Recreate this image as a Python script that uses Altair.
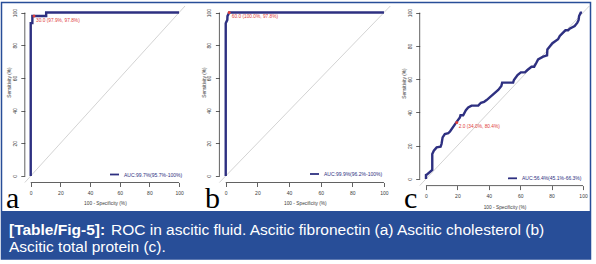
import altair as alt
import pandas as pd

# ---------------- data ----------------
TICKS = [0, 20, 40, 60, 80, 100]

# (a) Ascitic fibronectin : x = 100 - specificity (%), y = sensitivity (%)
A_FPR = [0, 0, 1.1, 1.1, 2.2, 10.4, 10.4, 100]
A_SENS = [0, 93.5, 93.5, 97.9, 97.9, 97.9, 100, 100]
A_THR_X, A_THR_Y = [2.2], [97.9]
A_THR_LABEL = "30.0 (97.9%, 97.8%)"
A_AUC = "AUC:99.7%(95.7%-100%)"

# (b) Ascitic cholesterol
B_FPR = [0, 0, 1.0, 1.1, 2.2, 100]
B_SENS = [0, 93.5, 95.5, 97.8, 100, 100]
B_THR_X, B_THR_Y = [2.2], [100]
B_THR_LABEL = "60.0 (100.0%, 97.8%)"
B_AUC = "AUC:99.9%(96.2%-100%)"

# (c) Ascitic total protein
C_FPR = [0, 0, 0.5, 4, 4, 5, 6.8, 9.3, 9.9, 10.6, 12, 14.2, 15.3, 19.3, 21.6, 22,
         23.7, 25.4, 26.9, 29, 33.3, 35, 37, 38.6, 46, 48, 48.5, 55.5, 56, 58.3,
         60.4, 63, 64.6, 67.2, 68.9, 70.3, 71.4, 74.6, 77.1, 77.3, 78.8, 80.5,
         84.1, 85.2, 87.3, 88.8, 90.5, 91.5, 94.7, 96.4, 97.2, 97.5, 98.5, 99.4]
C_SENS = [0, 2.4, 2.6, 5.4, 15, 17, 19, 19.4, 21, 25, 27, 27.5, 28.5, 34, 37, 38.3,
          38.3, 41.3, 43, 44.1, 44.1, 45.8, 46.4, 47.4, 53.5, 55.9, 57.9, 57.9, 59.5,
          62.5, 64.1, 64.1, 65.5, 67.5, 67.5, 69.9, 71.9, 73.5, 74.3, 77.9, 79.6,
          81.6, 84, 86, 88, 89.4, 89.4, 90.4, 92, 94, 95.6, 98, 100, 100]
C_THR_X, C_THR_Y = [19.6], [34.0]
C_THR_LABEL = "2.0 (34.0%, 80.4%)"
C_AUC = "AUC:56.4%(45.1%-66.3%)"

LETTERS = ["a", "b", "c"]
CAPTION_BOLD = "[Table/Fig-5]:"
CAPTION_1 = "ROC in ascitic fluid. Ascitic fibronectin (a) Ascitic cholesterol (b)"
CAPTION_2 = "Ascitic total protein (c)."

# ---------------- style ----------------
W, H = 596, 264
FONT = "Liberation Sans"
NAVY = "#2e3081"
RED = "#e0403c"
AX = "#3a3a3a"
BLUE = "#284e98"
DIAG = "#c8c8c8"
one = pd.DataFrame({"k": [0]})


def panel(fpr, sens, thr_x, thr_y, thr_label, auc, xr, yr, ytitle_y, xtitle_dy,
          thr_dx, thr_dy, leg_x, leg_y):
    xs = alt.Scale(domain=[-4, 104], range=xr, nice=False, zero=False)
    ys = alt.Scale(domain=[-4, 104], range=yr, nice=False, zero=False)
    common = dict(values=TICKS, domain=False, grid=False, tickSize=4, tickColor=AX,
                  tickWidth=0.8, labelFontSize=5, labelFont=FONT, labelColor=AX,
                  labelFlush=False, labelOverlap=False, titleFont=FONT,
                  titleFontSize=4.8, titleFontWeight="normal", titleColor=AX,
                  titleAlign="center", titleBaseline="middle")
    xa = alt.Axis(orient="bottom", offset=-(H - yr[0]), labelPadding=3.5,
                  title="100 - Specificity (%)", titleX=(xr[0] + xr[1]) / 2,
                  titleY=xtitle_dy, **common)
    ya = alt.Axis(orient="left", offset=-xr[0], labelPadding=3.5, labelAngle=270,
                  labelAlign="center", labelBaseline="bottom",
                  title="Sensitivity (%)", titleAngle=270, titleX=-14.8,
                  titleY=ytitle_y, **common)

    diag = alt.Chart(pd.DataFrame({"x": [-4], "y": [-4], "x2": [104], "y2": [104]})).mark_rule(
        color=DIAG, strokeWidth=0.8).encode(
        x=alt.X("x:Q", scale=xs, axis=None), y=alt.Y("y:Q", scale=ys, axis=None),
        x2="x2:Q", y2="y2:Q")

    axl = alt.Chart(pd.DataFrame({"x": [0, -4], "x2": [100, -4], "y": [-4, 0], "y2": [-4, 100]})).mark_rule(
        color=AX, strokeWidth=0.8).encode(
        x=alt.X("x:Q", scale=xs, axis=None), y=alt.Y("y:Q", scale=ys, axis=None),
        x2="x2:Q", y2="y2:Q")

    df = pd.DataFrame({"fpr": fpr, "sens": sens, "i": list(range(len(fpr)))})
    curve = alt.Chart(df).mark_line(color=NAVY, strokeWidth=2.4, strokeJoin="miter").encode(
        x=alt.X("fpr:Q", scale=xs, axis=xa), y=alt.Y("sens:Q", scale=ys, axis=ya),
        order="i:Q")

    tdf = pd.DataFrame({"x": thr_x, "y": thr_y, "t": [thr_label]})
    dot = alt.Chart(tdf).mark_circle(color=RED, size=9, opacity=1).encode(
        x=alt.X("x:Q", scale=xs, axis=None), y=alt.Y("y:Q", scale=ys, axis=None))
    lab = alt.Chart(tdf).mark_text(color=RED, font=FONT, fontSize=4.8, align="left",
                                   baseline="middle", dx=thr_dx, dy=thr_dy).encode(
        x=alt.X("x:Q", scale=xs, axis=None), y=alt.Y("y:Q", scale=ys, axis=None),
        text="t:N")

    leg_line = alt.Chart(one).mark_rule(color=NAVY, strokeWidth=1.8).encode(
        x=alt.value(leg_x), x2=alt.value(leg_x + 9), y=alt.value(leg_y))
    leg_text = alt.Chart(one).mark_text(text=auc, color=NAVY, font=FONT, fontSize=5,
                                        align="left", baseline="middle").encode(
        x=alt.value(leg_x + 14), y=alt.value(leg_y))
    return [diag, axl, curve, dot, lab, leg_line, leg_text]


layers = []
layers += panel(A_FPR, A_SENS, A_THR_X, A_THR_Y, A_THR_LABEL, A_AUC,
                [24.8, 185.0], [182.5, 6.0], 82, 20.5, 2, 4.7, 110, 174.5)
layers += panel(B_FPR, B_SENS, B_THR_X, B_THR_Y, B_THR_LABEL, B_AUC,
                [219.4, 390.3], [182.5, 6.0], 82, 20.5, 2.5, 4.2, 310, 174)
layers += panel(C_FPR, C_SENS, C_THR_X, C_THR_Y, C_THR_LABEL, C_AUC,
                [419.7, 589.3], [185.6, 6.0], 83, 21.9, 2, 4.2, 508, 178.3)

frame = alt.Chart(one).mark_rect(fillOpacity=0, stroke=BLUE, strokeWidth=1.5).encode(
    x=alt.value(1.5), x2=alt.value(590.5), y=alt.value(2.5), y2=alt.value(259))
box = alt.Chart(one).mark_rect(color=BLUE, opacity=1).encode(
    x=alt.value(1.5), x2=alt.value(590.5), y=alt.value(211), y2=alt.value(259))
cap_b = alt.Chart(one).mark_text(text=CAPTION_BOLD, font=FONT, fontSize=15.5,
                                 fontWeight="bold", color="white", align="left",
                                 baseline="alphabetic").encode(
    x=alt.value(9), y=alt.value(234.5))
cap_1 = alt.Chart(one).mark_text(text=CAPTION_1, font=FONT, fontSize=15.5,
                                 color="white", align="left",
                                 baseline="alphabetic").encode(
    x=alt.value(111), y=alt.value(234.5))
cap_2 = alt.Chart(one).mark_text(text=CAPTION_2, font=FONT, fontSize=15.5,
                                 color="white", align="left",
                                 baseline="alphabetic").encode(
    x=alt.value(9), y=alt.value(252))

letter_layers = []
for txt, lx in zip(LETTERS, [6, 205, 404]):
    letter_layers.append(
        alt.Chart(one).mark_text(text=txt, font="Liberation Serif", fontSize=30,
                                 color="black", align="left",
                                 baseline="alphabetic").encode(
            x=alt.value(lx), y=alt.value(208)))

chart = alt.layer(*layers, frame, box, cap_b, cap_1, cap_2, *letter_layers).resolve_scale(
    x="independent", y="independent").properties(
    width=W, height=H, autosize=alt.AutoSizeParams(type="none"), padding=0,
    background="white").configure_view(stroke=None)

chart.save("out.html", embed_options={"renderer": "svg", "actions": False})
